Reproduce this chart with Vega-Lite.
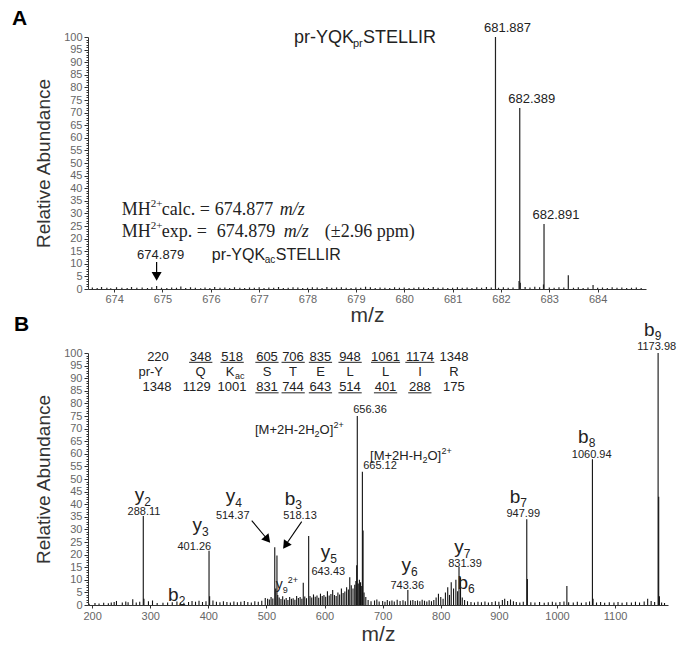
{
  "$schema": "https://vega.github.io/schema/vega-lite/v6.json",
  "background": "white",
  "padding": {"left": 12, "top": 8, "right": 5, "bottom": 3},
  "bounds": "flush",
  "spacing": 64,
  "config": {
    "view": {"stroke": null},
    "font": "Liberation Sans",
    "text": {"font": "Liberation Sans", "color": "#222"},
    "axis": {"labelFont": "Liberation Sans", "labelFontSize": 11, "labelColor": "#666", "domainColor": "#333", "tickColor": "#333", "grid": false, "titleFont": "Liberation Sans", "titleFontWeight": "normal", "titleColor": "#333"}
  },
  "datasets": {
    "peaksA": [
      {"mz":681.887,"ab":100},{"mz":682.389,"ab":71.8},{"mz":682.375,"ab":3.2},{"mz":682.40,"ab":2.5},{"mz":682.891,"ab":25.8},{"mz":682.88,"ab":1.8},{"mz":683.393,"ab":5.5},{"mz":683.905,"ab":1.6},{"mz":674.879,"ab":1.2},{"mz":675.38,"ab":1.0},
      {"mz":673.55,"ab":0.6},{"mz":673.65,"ab":0.4},{"mz":673.74,"ab":0.8},{"mz":673.85,"ab":0.5},{"mz":673.93,"ab":0.3},{"mz":674.05,"ab":0.7},{"mz":674.16,"ab":0.5},{"mz":674.27,"ab":0.4},{"mz":674.36,"ab":0.8},{"mz":674.47,"ab":0.5},{"mz":674.58,"ab":0.6},{"mz":674.69,"ab":0.4},{"mz":674.78,"ab":0.7},{"mz":674.98,"ab":0.5},{"mz":675.09,"ab":0.4},{"mz":675.19,"ab":0.6},{"mz":675.29,"ab":0.5},{"mz":675.48,"ab":0.4},{"mz":675.58,"ab":0.7},{"mz":675.68,"ab":0.5},{"mz":675.79,"ab":0.3},{"mz":675.88,"ab":0.6},{"mz":675.98,"ab":0.4},{"mz":676.08,"ab":0.8},{"mz":676.19,"ab":0.5},{"mz":676.29,"ab":0.6},{"mz":676.39,"ab":0.4},{"mz":676.49,"ab":0.7},{"mz":676.6,"ab":0.5},{"mz":676.7,"ab":0.4},{"mz":676.8,"ab":0.6},{"mz":676.9,"ab":0.5},{"mz":677.0,"ab":0.7},{"mz":677.1,"ab":0.4},{"mz":677.2,"ab":0.6},{"mz":677.3,"ab":0.5},{"mz":677.4,"ab":0.8},{"mz":677.5,"ab":0.4},{"mz":677.6,"ab":0.5},{"mz":677.7,"ab":0.7},{"mz":677.8,"ab":0.6},{"mz":677.9,"ab":0.4},{"mz":678.0,"ab":0.5},{"mz":678.1,"ab":0.7},{"mz":678.2,"ab":0.6},{"mz":678.3,"ab":0.4},{"mz":678.4,"ab":0.8},{"mz":678.5,"ab":0.5},{"mz":678.6,"ab":0.6},{"mz":678.7,"ab":0.7},{"mz":678.8,"ab":0.5},{"mz":678.9,"ab":0.4},{"mz":679.0,"ab":0.6},{"mz":679.1,"ab":0.5},{"mz":679.2,"ab":0.9},{"mz":679.3,"ab":0.7},{"mz":679.4,"ab":0.4},{"mz":679.5,"ab":0.6},{"mz":679.6,"ab":0.5},{"mz":679.7,"ab":0.4},{"mz":679.8,"ab":0.7},{"mz":679.9,"ab":0.5},{"mz":680.0,"ab":0.6},{"mz":680.1,"ab":0.4},{"mz":680.2,"ab":0.5},{"mz":680.3,"ab":0.7},{"mz":680.4,"ab":0.6},{"mz":680.5,"ab":0.4},{"mz":680.6,"ab":0.8},{"mz":680.7,"ab":0.5},{"mz":680.8,"ab":0.6},{"mz":680.9,"ab":0.4},{"mz":681.0,"ab":0.5},{"mz":681.1,"ab":0.7},{"mz":681.2,"ab":0.5},{"mz":681.3,"ab":0.6},{"mz":681.4,"ab":0.4},{"mz":681.5,"ab":0.7},{"mz":681.6,"ab":0.5},{"mz":681.7,"ab":0.8},{"mz":681.8,"ab":0.6},{"mz":681.95,"ab":0.5},{"mz":682.05,"ab":0.7},{"mz":682.15,"ab":0.5},{"mz":682.25,"ab":0.6},{"mz":682.5,"ab":0.8},{"mz":682.6,"ab":0.6},{"mz":682.7,"ab":0.9},{"mz":682.8,"ab":0.7},{"mz":683.0,"ab":0.6},{"mz":683.1,"ab":0.5},{"mz":683.2,"ab":0.7},{"mz":683.3,"ab":0.6},{"mz":683.5,"ab":0.5},{"mz":683.6,"ab":0.7},{"mz":683.7,"ab":0.4},{"mz":683.8,"ab":0.6},{"mz":684.0,"ab":0.5},{"mz":684.1,"ab":0.6},{"mz":684.2,"ab":0.4},{"mz":684.3,"ab":0.7},{"mz":684.4,"ab":0.5},{"mz":684.5,"ab":0.6},{"mz":684.6,"ab":0.4},{"mz":684.7,"ab":0.5},{"mz":684.8,"ab":0.6},{"mz":684.9,"ab":0.4}
    ],
    "peaksB": [
      {"mz":288.11,"ab":35.3},{"mz":289.2,"ab":2.5},{"mz":401.26,"ab":21.5},{"mz":402.3,"ab":3.5},{"mz":514.37,"ab":22.9},{"mz":518.13,"ab":19.6},{"mz":516,"ab":6.5},{"mz":519.5,"ab":4},{"mz":563.4,"ab":8.8},{"mz":572.7,"ab":27.4},{"mz":643.43,"ab":11},{"mz":656.36,"ab":75},{"mz":655.3,"ab":15.8},{"mz":665.12,"ab":52.9},{"mz":666.3,"ab":29.6},{"mz":743.36,"ab":6},{"mz":831.39,"ab":15.2},{"mz":834,"ab":11},{"mz":947.99,"ab":34},{"mz":949.0,"ab":10.3},{"mz":1017,"ab":7.5},{"mz":1060.94,"ab":57.8},{"mz":1062,"ab":2.5},{"mz":1173.98,"ab":100},{"mz":1175.0,"ab":43},{"mz":1176.2,"ab":3.5},
      {"mz":195,"ab":0.5},{"mz":205,"ab":0.8},{"mz":212,"ab":0.6},{"mz":220,"ab":0.9},{"mz":228,"ab":0.7},{"mz":233,"ab":1.0},{"mz":238,"ab":1.2},{"mz":242,"ab":1.6},{"mz":252,"ab":1.0},{"mz":258,"ab":1.4},{"mz":262,"ab":1.1},{"mz":270,"ab":2.3},{"mz":276,"ab":1.0},{"mz":282,"ab":1.3},{"mz":297,"ab":1.5},{"mz":304,"ab":1.8},{"mz":312,"ab":0.8},{"mz":322,"ab":0.9},{"mz":330,"ab":1.0},{"mz":338,"ab":1.1},{"mz":346,"ab":1.4},{"mz":352,"ab":1.0},{"mz":358,"ab":0.9},{"mz":366,"ab":1.2},{"mz":372,"ab":1.6},{"mz":378,"ab":1.3},{"mz":384,"ab":1.7},{"mz":390,"ab":1.2},{"mz":396,"ab":1.5},{"mz":408,"ab":1.8},{"mz":414,"ab":1.3},{"mz":420,"ab":1.1},{"mz":426,"ab":1.5},{"mz":432,"ab":1.2},{"mz":438,"ab":1.0},{"mz":444,"ab":1.4},{"mz":450,"ab":1.1},{"mz":456,"ab":1.3},{"mz":462,"ab":1.6},{"mz":468,"ab":1.2},{"mz":474,"ab":1.0},{"mz":480,"ab":1.5},{"mz":486,"ab":1.3},{"mz":492,"ab":1.7},{"mz":498,"ab":2.8},{"mz":502,"ab":2.5},{"mz":505,"ab":2.2},{"mz":508,"ab":3.2},{"mz":511,"ab":2.6},{"mz":522,"ab":3.0},{"mz":525,"ab":2.4},{"mz":528,"ab":3.5},{"mz":531,"ab":2.2},{"mz":534,"ab":2.8},{"mz":537,"ab":2.0},{"mz":540,"ab":3.2},{"mz":543,"ab":2.5},{"mz":546,"ab":2.7},{"mz":549,"ab":2.1},{"mz":552,"ab":3.6},{"mz":555,"ab":2.8},{"mz":558,"ab":3.2},{"mz":561,"ab":2.5},{"mz":566,"ab":3.4},{"mz":569,"ab":2.7},{"mz":575,"ab":3.6},{"mz":578,"ab":3.0},{"mz":581,"ab":4.2},{"mz":584,"ab":3.3},{"mz":587,"ab":3.8},{"mz":590,"ab":2.9},{"mz":593,"ab":4.5},{"mz":596,"ab":3.6},{"mz":599,"ab":4.0},{"mz":602,"ab":3.3},{"mz":605,"ab":5.5},{"mz":608,"ab":3.8},{"mz":611,"ab":4.4},{"mz":614,"ab":6.0},{"mz":617,"ab":4.0},{"mz":620,"ab":3.6},{"mz":623,"ab":5.0},{"mz":626,"ab":4.2},{"mz":629,"ab":6.5},{"mz":632,"ab":4.8},{"mz":635,"ab":5.4},{"mz":638,"ab":7.0},{"mz":641,"ab":6.2},{"mz":646,"ab":7.8},{"mz":649,"ab":6.5},{"mz":652,"ab":8.0},{"mz":654,"ab":9.5},{"mz":658,"ab":8.5},{"mz":660,"ab":10.0},{"mz":662,"ab":9.0},{"mz":664,"ab":7.5},{"mz":668,"ab":5.0},{"mz":671,"ab":3.2},{"mz":675,"ab":2.0},{"mz":680,"ab":1.5},{"mz":686,"ab":1.8},{"mz":690,"ab":2.2},{"mz":694,"ab":1.4},{"mz":700,"ab":1.6},{"mz":704,"ab":1.3},{"mz":708,"ab":2.0},{"mz":712,"ab":1.5},{"mz":716,"ab":1.8},{"mz":720,"ab":1.4},{"mz":725,"ab":2.1},{"mz":730,"ab":1.6},{"mz":735,"ab":1.9},{"mz":739,"ab":1.5},{"mz":748,"ab":1.8},{"mz":752,"ab":2.0},{"mz":756,"ab":1.6},{"mz":760,"ab":1.8},{"mz":764,"ab":1.5},{"mz":768,"ab":2.1},{"mz":772,"ab":1.7},{"mz":776,"ab":1.4},{"mz":780,"ab":1.9},{"mz":784,"ab":1.5},{"mz":788,"ab":2.0},{"mz":792,"ab":3.0},{"mz":796,"ab":4.5},{"mz":800,"ab":3.2},{"mz":804,"ab":2.5},{"mz":808,"ab":5.0},{"mz":812,"ab":7.0},{"mz":815,"ab":4.0},{"mz":818,"ab":9.0},{"mz":822,"ab":6.5},{"mz":826,"ab":10.0},{"mz":829,"ab":5.5},{"mz":837,"ab":3.0},{"mz":841,"ab":2.0},{"mz":846,"ab":1.5},{"mz":852,"ab":1.2},{"mz":858,"ab":1.0},{"mz":864,"ab":1.3},{"mz":870,"ab":1.1},{"mz":876,"ab":1.4},{"mz":882,"ab":1.0},{"mz":888,"ab":1.2},{"mz":894,"ab":1.5},{"mz":900,"ab":1.3},{"mz":906,"ab":2.0},{"mz":910,"ab":2.5},{"mz":915,"ab":1.6},{"mz":920,"ab":2.2},{"mz":925,"ab":1.5},{"mz":930,"ab":1.2},{"mz":936,"ab":1.0},{"mz":942,"ab":1.3},{"mz":955,"ab":1.1},{"mz":962,"ab":1.0},{"mz":970,"ab":1.2},{"mz":978,"ab":0.9},{"mz":985,"ab":1.1},{"mz":992,"ab":1.3},{"mz":998,"ab":1.0},{"mz":1005,"ab":1.2},{"mz":1012,"ab":1.4},{"mz":1020,"ab":1.1},{"mz":1028,"ab":1.0},{"mz":1035,"ab":1.3},{"mz":1042,"ab":0.9},{"mz":1050,"ab":1.1},{"mz":1056,"ab":1.4},{"mz":1068,"ab":1.0},{"mz":1075,"ab":1.2},{"mz":1082,"ab":0.9},{"mz":1090,"ab":1.1},{"mz":1098,"ab":1.0},{"mz":1105,"ab":1.2},{"mz":1112,"ab":0.9},{"mz":1120,"ab":1.1},{"mz":1128,"ab":1.0},{"mz":1135,"ab":1.3},{"mz":1142,"ab":1.0},{"mz":1150,"ab":1.4},{"mz":1156,"ab":2.5},{"mz":1162,"ab":1.6},{"mz":1168,"ab":1.2},{"mz":1180,"ab":1.0},{"mz":1185,"ab":0.8}
    ]
  },
  "vconcat": [
    {
      "width": 558,
      "height": 252,
      "title": {"text": "A", "anchor": "start", "frame": "group", "dx": -76, "offset": -7, "fontSize": 21, "fontWeight": "bold", "color": "#000", "font": "Liberation Sans"},
      "encoding": {
        "x": {"field": "mz", "type": "quantitative", "scale": {"domain": [673.46, 685], "nice": false, "zero": false},
              "axis": {"title": "m/z", "values": [674,675,676,677,678,679,680,681,682,683,684], "format": "d", "titleFontSize": 21, "titlePadding": 0, "tickSize": 3, "labelPadding": 1}},
        "y": {"field": "ab", "type": "quantitative", "scale": {"domain": [0, 100], "nice": false},
              "axis": {"title": "Relative Abundance", "values": [0,1,2,3,4,5,6,7,8,9,10,11,12,13,14,15,16,17,18,19,20,21,22,23,24,25,26,27,28,29,30,31,32,33,34,35,36,37,38,39,40,41,42,43,44,45,46,47,48,49,50,51,52,53,54,55,56,57,58,59,60,61,62,63,64,65,66,67,68,69,70,71,72,73,74,75,76,77,78,79,80,81,82,83,84,85,86,87,88,89,90,91,92,93,94,95,96,97,98,99,100],
                       "labelExpr": "datum.value % 5 === 0 ? datum.label : ''", "labelOverlap": false,
                       "tickSize": {"condition": {"test": "datum.value % 5 === 0", "value": 4}, "value": 2},
                       "labelPadding": 2, "titleFontSize": 19, "titlePadding": 10}}
      },
      "layer": [
        {"data": {"name": "peaksA"}, "mark": {"type": "rule", "color": "#222", "strokeWidth": 1.2}, "encoding": {"y2": {"datum": 0}}},
        {"data": {"values": [{"mz": 677.72, "ab": 99.6, "label": "pr-YQK"}]}, "mark": {"type": "text", "align": "left", "baseline": "middle", "fontSize": 18}, "encoding": {"text": {"field": "label"}}},
        {"data": {"values": [{"mz": 677.72, "ab": 99.6, "label": "pr"}]}, "mark": {"type": "text", "align": "left", "baseline": "middle", "fontSize": 11, "dx": 59, "dy": 6}, "encoding": {"text": {"field": "label"}}},
        {"data": {"values": [{"mz": 677.72, "ab": 99.6, "label": "STELLIR"}]}, "mark": {"type": "text", "align": "left", "baseline": "middle", "fontSize": 18, "dx": 69}, "encoding": {"text": {"field": "label"}}},
        {"data": {"values": [{"mz": 681.887, "ab": 100, "label": "681.887"}, {"mz": 682.389, "ab": 71.8, "label": "682.389"}, {"mz": 682.891, "ab": 25.8, "label": "682.891"}]}, "mark": {"type": "text", "align": "center", "baseline": "bottom", "fontSize": 13, "dx": 12, "dy": -2}, "encoding": {"text": {"field": "label"}}},
        {"data": {"values": [{"mz": 674.16, "ab": 31.3, "label": "MH"}, {"mz": 674.16, "ab": 22.6, "label": "MH"}]}, "mark": {"type": "text", "align": "left", "baseline": "middle", "fontSize": 18, "font": "Liberation Serif"}, "encoding": {"text": {"field": "label"}}},
        {"data": {"values": [{"mz": 674.16, "ab": 31.3, "label": "2+"}, {"mz": 674.16, "ab": 22.6, "label": "2+"}]}, "mark": {"type": "text", "align": "left", "baseline": "middle", "fontSize": 11, "font": "Liberation Serif", "dx": 29, "dy": -6}, "encoding": {"text": {"field": "label"}}},
        {"data": {"values": [{"mz": 674.16, "ab": 31.3, "label": "calc. ="}, {"mz": 674.16, "ab": 22.6, "label": "exp. ="}]}, "mark": {"type": "text", "align": "left", "baseline": "middle", "fontSize": 18, "font": "Liberation Serif", "dx": 40}, "encoding": {"text": {"field": "label"}}},
        {"data": {"values": [{"mz": 674.16, "ab": 31.3, "label": "674.877"}]}, "mark": {"type": "text", "align": "left", "baseline": "middle", "fontSize": 18, "font": "Liberation Serif", "dx": 93}, "encoding": {"text": {"field": "label"}}},
        {"data": {"values": [{"mz": 674.16, "ab": 22.6, "label": "674.879"}]}, "mark": {"type": "text", "align": "left", "baseline": "middle", "fontSize": 18, "font": "Liberation Serif", "dx": 95}, "encoding": {"text": {"field": "label"}}},
        {"data": {"values": [{"mz": 674.16, "ab": 31.3, "label": "m/z"}]}, "mark": {"type": "text", "align": "left", "baseline": "middle", "fontSize": 18, "font": "Liberation Serif", "fontStyle": "italic", "dx": 158}, "encoding": {"text": {"field": "label"}}},
        {"data": {"values": [{"mz": 674.16, "ab": 22.6, "label": "m/z"}]}, "mark": {"type": "text", "align": "left", "baseline": "middle", "fontSize": 18, "font": "Liberation Serif", "fontStyle": "italic", "dx": 162}, "encoding": {"text": {"field": "label"}}},
        {"data": {"values": [{"mz": 674.16, "ab": 22.6, "label": "(±2.96 ppm)"}]}, "mark": {"type": "text", "align": "left", "baseline": "middle", "fontSize": 18, "font": "Liberation Serif", "dx": 203}, "encoding": {"text": {"field": "label"}}},
        {"data": {"values": [{"mz": 674.879, "ab": 13.5, "label": "674.879"}]}, "mark": {"type": "text", "align": "center", "baseline": "middle", "fontSize": 13, "dx": 4}, "encoding": {"text": {"field": "label"}}},
        {"data": {"values": [{"mz": 674.879, "ab": 10.7, "ab2": 5.5}]}, "mark": {"type": "rule", "color": "#000", "strokeWidth": 1.2}, "encoding": {"y2": {"field": "ab2"}}},
        {"data": {"values": [{"mz": 674.879, "ab": 5.0}]}, "mark": {"type": "point", "shape": "triangle-down", "size": 100, "filled": true, "color": "#000", "opacity": 1}},
        {"data": {"values": [{"mz": 676.02, "ab": 13.5, "label": "pr-YQK"}]}, "mark": {"type": "text", "align": "left", "baseline": "middle", "fontSize": 16}, "encoding": {"text": {"field": "label"}}},
        {"data": {"values": [{"mz": 676.02, "ab": 13.5, "label": "ac"}]}, "mark": {"type": "text", "align": "left", "baseline": "middle", "fontSize": 10, "dx": 53, "dy": 5}, "encoding": {"text": {"field": "label"}}},
        {"data": {"values": [{"mz": 676.02, "ab": 13.5, "label": "STELLIR"}]}, "mark": {"type": "text", "align": "left", "baseline": "middle", "fontSize": 16, "dx": 64}, "encoding": {"text": {"field": "label"}}}
      ]
    },
    {
      "width": 580,
      "height": 252,
      "title": {"text": "B", "anchor": "start", "frame": "group", "dx": -74, "offset": -14, "fontSize": 21, "fontWeight": "bold", "color": "#000", "font": "Liberation Sans"},
      "encoding": {
        "x": {"field": "mz", "type": "quantitative", "scale": {"domain": [193, 1191], "nice": false, "zero": false},
              "axis": {"title": "m/z", "values": [200,300,400,500,600,700,800,900,1000,1100], "format": "d", "titleFontSize": 21, "titlePadding": 2, "tickSize": 3, "labelPadding": 2}},
        "y": {"field": "ab", "type": "quantitative", "scale": {"domain": [0, 100], "nice": false},
              "axis": {"title": "Relative Abundance", "values": [0,1,2,3,4,5,6,7,8,9,10,11,12,13,14,15,16,17,18,19,20,21,22,23,24,25,26,27,28,29,30,31,32,33,34,35,36,37,38,39,40,41,42,43,44,45,46,47,48,49,50,51,52,53,54,55,56,57,58,59,60,61,62,63,64,65,66,67,68,69,70,71,72,73,74,75,76,77,78,79,80,81,82,83,84,85,86,87,88,89,90,91,92,93,94,95,96,97,98,99,100],
                       "labelExpr": "datum.value % 5 === 0 ? datum.label : ''", "labelOverlap": false,
                       "tickSize": {"condition": {"test": "datum.value % 5 === 0", "value": 4}, "value": 2},
                       "labelPadding": 2, "titleFontSize": 19, "titlePadding": 10}}
      },
      "layer": [
        {"data": {"name": "peaksB"}, "mark": {"type": "rule", "color": "#111", "strokeWidth": 1.1}, "encoding": {"y2": {"datum": 0}}},
        {"data": {"values": [
          {"mz": 313.4, "ab": 98.5, "label": "220"}, {"mz": 386.9, "ab": 98.5, "label": "348"}, {"mz": 440.8, "ab": 98.5, "label": "518"}, {"mz": 501, "ab": 98.5, "label": "605"}, {"mz": 545.7, "ab": 98.5, "label": "706"}, {"mz": 593, "ab": 98.5, "label": "835"}, {"mz": 643.8, "ab": 98.5, "label": "948"}, {"mz": 704.9, "ab": 98.5, "label": "1061"}, {"mz": 764.2, "ab": 98.5, "label": "1174"}, {"mz": 822.7, "ab": 98.5, "label": "1348"},
          {"mz": 300.9, "ab": 92.6, "label": "pr-Y"}, {"mz": 386.9, "ab": 92.6, "label": "Q"}, {"mz": 501, "ab": 92.6, "label": "S"}, {"mz": 545.7, "ab": 92.6, "label": "T"}, {"mz": 593, "ab": 92.6, "label": "E"}, {"mz": 643.8, "ab": 92.6, "label": "L"}, {"mz": 704.9, "ab": 92.6, "label": "L"}, {"mz": 764.2, "ab": 92.6, "label": "I"}, {"mz": 822.7, "ab": 92.6, "label": "R"},
          {"mz": 311.7, "ab": 86.5, "label": "1348"}, {"mz": 380, "ab": 86.5, "label": "1129"}, {"mz": 440.8, "ab": 86.5, "label": "1001"}, {"mz": 501, "ab": 86.5, "label": "831"}, {"mz": 545.7, "ab": 86.5, "label": "744"}, {"mz": 593, "ab": 86.5, "label": "643"}, {"mz": 643.8, "ab": 86.5, "label": "514"}, {"mz": 704.9, "ab": 86.5, "label": "401"}, {"mz": 764.2, "ab": 86.5, "label": "288"}, {"mz": 822.7, "ab": 86.5, "label": "175"}
        ]}, "mark": {"type": "text", "align": "center", "baseline": "middle", "fontSize": 13}, "encoding": {"text": {"field": "label"}}},
        {"data": {"values": [{"mz": 440.8, "ab": 92.6, "label": "K"}]}, "mark": {"type": "text", "align": "center", "baseline": "middle", "fontSize": 13, "dx": -2}, "encoding": {"text": {"field": "label"}}},
        {"data": {"values": [{"mz": 440.8, "ab": 92.6, "label": "ac"}]}, "mark": {"type": "text", "align": "left", "baseline": "middle", "fontSize": 9, "dx": 3, "dy": 4}, "encoding": {"text": {"field": "label"}}},
        {"data": {"values": [
          {"mz": 367, "mz2": 407, "ab": 96.3}, {"mz": 421, "mz2": 461, "ab": 96.3}, {"mz": 481, "mz2": 521, "ab": 96.3}, {"mz": 526, "mz2": 566, "ab": 96.3}, {"mz": 573, "mz2": 613, "ab": 96.3}, {"mz": 624, "mz2": 664, "ab": 96.3}, {"mz": 680, "mz2": 730, "ab": 96.3}, {"mz": 739, "mz2": 789, "ab": 96.3},
          {"mz": 481, "mz2": 521, "ab": 84.2}, {"mz": 526, "mz2": 566, "ab": 84.2}, {"mz": 573, "mz2": 613, "ab": 84.2}, {"mz": 624, "mz2": 664, "ab": 84.2}, {"mz": 685, "mz2": 725, "ab": 84.2}, {"mz": 744, "mz2": 784, "ab": 84.2}
        ]}, "mark": {"type": "rule", "color": "#222", "strokeWidth": 1}, "encoding": {"x2": {"field": "mz2"}}},
        {"data": {"values": [
          {"mz": 286.4, "ab": 42.3, "label": "y"}, {"mz": 385.7, "ab": 30.4, "label": "y"}, {"mz": 443, "ab": 41.9, "label": "y"}, {"mz": 606.5, "ab": 19.8, "label": "y"}, {"mz": 745.3, "ab": 14.6, "label": "y"}, {"mz": 836, "ab": 21.8, "label": "y"}
        ]}, "mark": {"type": "text", "align": "right", "baseline": "middle", "fontSize": 19, "dx": 2, "dy": -3}, "encoding": {"text": {"field": "label"}}},
        {"data": {"values": [
          {"mz": 546.2, "ab": 41.9, "label": "b"}, {"mz": 345.6, "ab": 4.0, "label": "b"}, {"mz": 843.4, "ab": 8.8, "label": "b"}, {"mz": 933.4, "ab": 42.7, "label": "b"}, {"mz": 1051, "ab": 66.5, "label": "b"}, {"mz": 1164.6, "ab": 109.1, "label": "b"}
        ]}, "mark": {"type": "text", "align": "right", "baseline": "middle", "fontSize": 19, "dx": 2}, "encoding": {"text": {"field": "label"}}},
        {"data": {"values": [
          {"mz": 286.4, "ab": 42.3, "label": "2"}, {"mz": 385.7, "ab": 30.4, "label": "3"}, {"mz": 443, "ab": 41.9, "label": "4"}, {"mz": 606.5, "ab": 19.8, "label": "5"}, {"mz": 745.3, "ab": 14.6, "label": "6"}, {"mz": 836, "ab": 21.8, "label": "7"}
        ]}, "mark": {"type": "text", "align": "left", "baseline": "middle", "fontSize": 12, "dx": 2, "dy": 4}, "encoding": {"text": {"field": "label"}}},
        {"data": {"values": [
          {"mz": 546.2, "ab": 41.9, "label": "3"}, {"mz": 345.6, "ab": 4.0, "label": "2"}, {"mz": 843.4, "ab": 8.8, "label": "6"}, {"mz": 933.4, "ab": 42.7, "label": "7"}, {"mz": 1051, "ab": 66.5, "label": "8"}, {"mz": 1164.6, "ab": 109.1, "label": "9"}
        ]}, "mark": {"type": "text", "align": "left", "baseline": "middle", "fontSize": 12, "dx": 2, "dy": 6}, "encoding": {"text": {"field": "label"}}},
        {"data": {"values": [
          {"mz": 289.4, "ab": 37.0, "label": "288.11"}, {"mz": 375.9, "ab": 22.9, "label": "401.26"}, {"mz": 442, "ab": 35.4, "label": "514.37"}, {"mz": 557.8, "ab": 35.4, "label": "518.13"}, {"mz": 606.5, "ab": 13, "label": "643.43"}, {"mz": 742.4, "ab": 7.5, "label": "743.36"}, {"mz": 841.7, "ab": 16.3, "label": "831.39"}, {"mz": 942, "ab": 36.1, "label": "947.99"}, {"mz": 1059.7, "ab": 59.5, "label": "1060.94"}, {"mz": 1171.5, "ab": 102.5, "label": "1173.98"}, {"mz": 678.2, "ab": 77.4, "label": "656.36"}, {"mz": 695.4, "ab": 55.3, "label": "665.12"}
        ]}, "mark": {"type": "text", "align": "center", "baseline": "middle", "fontSize": 11}, "encoding": {"text": {"field": "label"}}},
        {"data": {"values": [{"mz": 528, "ab": 7.9, "label": "y"}]}, "mark": {"type": "text", "align": "right", "baseline": "middle", "fontSize": 14, "dx": 0}, "encoding": {"text": {"field": "label"}}},
        {"data": {"values": [{"mz": 528, "ab": 7.9, "label": "9"}]}, "mark": {"type": "text", "align": "left", "baseline": "middle", "fontSize": 9, "dx": 0, "dy": 5}, "encoding": {"text": {"field": "label"}}},
        {"data": {"values": [{"mz": 528, "ab": 7.9, "label": "2+"}]}, "mark": {"type": "text", "align": "left", "baseline": "middle", "fontSize": 9, "dx": 5, "dy": -5}, "encoding": {"text": {"field": "label"}}},
        {"data": {"values": [{"mz": 582.9, "ab": 69.4, "label": "[M+2H-2H"}, {"mz": 768.4, "ab": 59.1, "label": "[M+2H-H"}]}, "mark": {"type": "text", "align": "right", "baseline": "middle", "fontSize": 13}, "encoding": {"text": {"field": "label"}}},
        {"data": {"values": [{"mz": 582.9, "ab": 69.4, "label": "2"}, {"mz": 768.4, "ab": 59.1, "label": "2"}]}, "mark": {"type": "text", "align": "left", "baseline": "middle", "fontSize": 9, "dx": 0, "dy": 4}, "encoding": {"text": {"field": "label"}}},
        {"data": {"values": [{"mz": 582.9, "ab": 69.4, "label": "O]"}, {"mz": 768.4, "ab": 59.1, "label": "O]"}]}, "mark": {"type": "text", "align": "left", "baseline": "middle", "fontSize": 13, "dx": 5}, "encoding": {"text": {"field": "label"}}},
        {"data": {"values": [{"mz": 582.9, "ab": 69.4, "label": "2+"}, {"mz": 768.4, "ab": 59.1, "label": "2+"}]}, "mark": {"type": "text", "align": "left", "baseline": "middle", "fontSize": 9, "dx": 19, "dy": -5}, "encoding": {"text": {"field": "label"}}},
        {"data": {"values": [{"mz": 474.7, "ab": 33.5, "mz2": 501.9, "ab2": 26.0}, {"mz": 560.7, "ab": 33.1, "mz2": 532.8, "ab2": 23.7}]}, "mark": {"type": "rule", "color": "#000", "strokeWidth": 1.1}, "encoding": {"x2": {"field": "mz2"}, "y2": {"field": "ab2"}}},
        {"data": {"values": [{"mz": 501.9, "ab": 26.0}]}, "mark": {"type": "point", "shape": "triangle-up", "size": 90, "filled": true, "color": "#000", "opacity": 1, "angle": 140}},
        {"data": {"values": [{"mz": 532.8, "ab": 23.7}]}, "mark": {"type": "point", "shape": "triangle-up", "size": 90, "filled": true, "color": "#000", "opacity": 1, "angle": 215}}
      ]
    }
  ]
}
